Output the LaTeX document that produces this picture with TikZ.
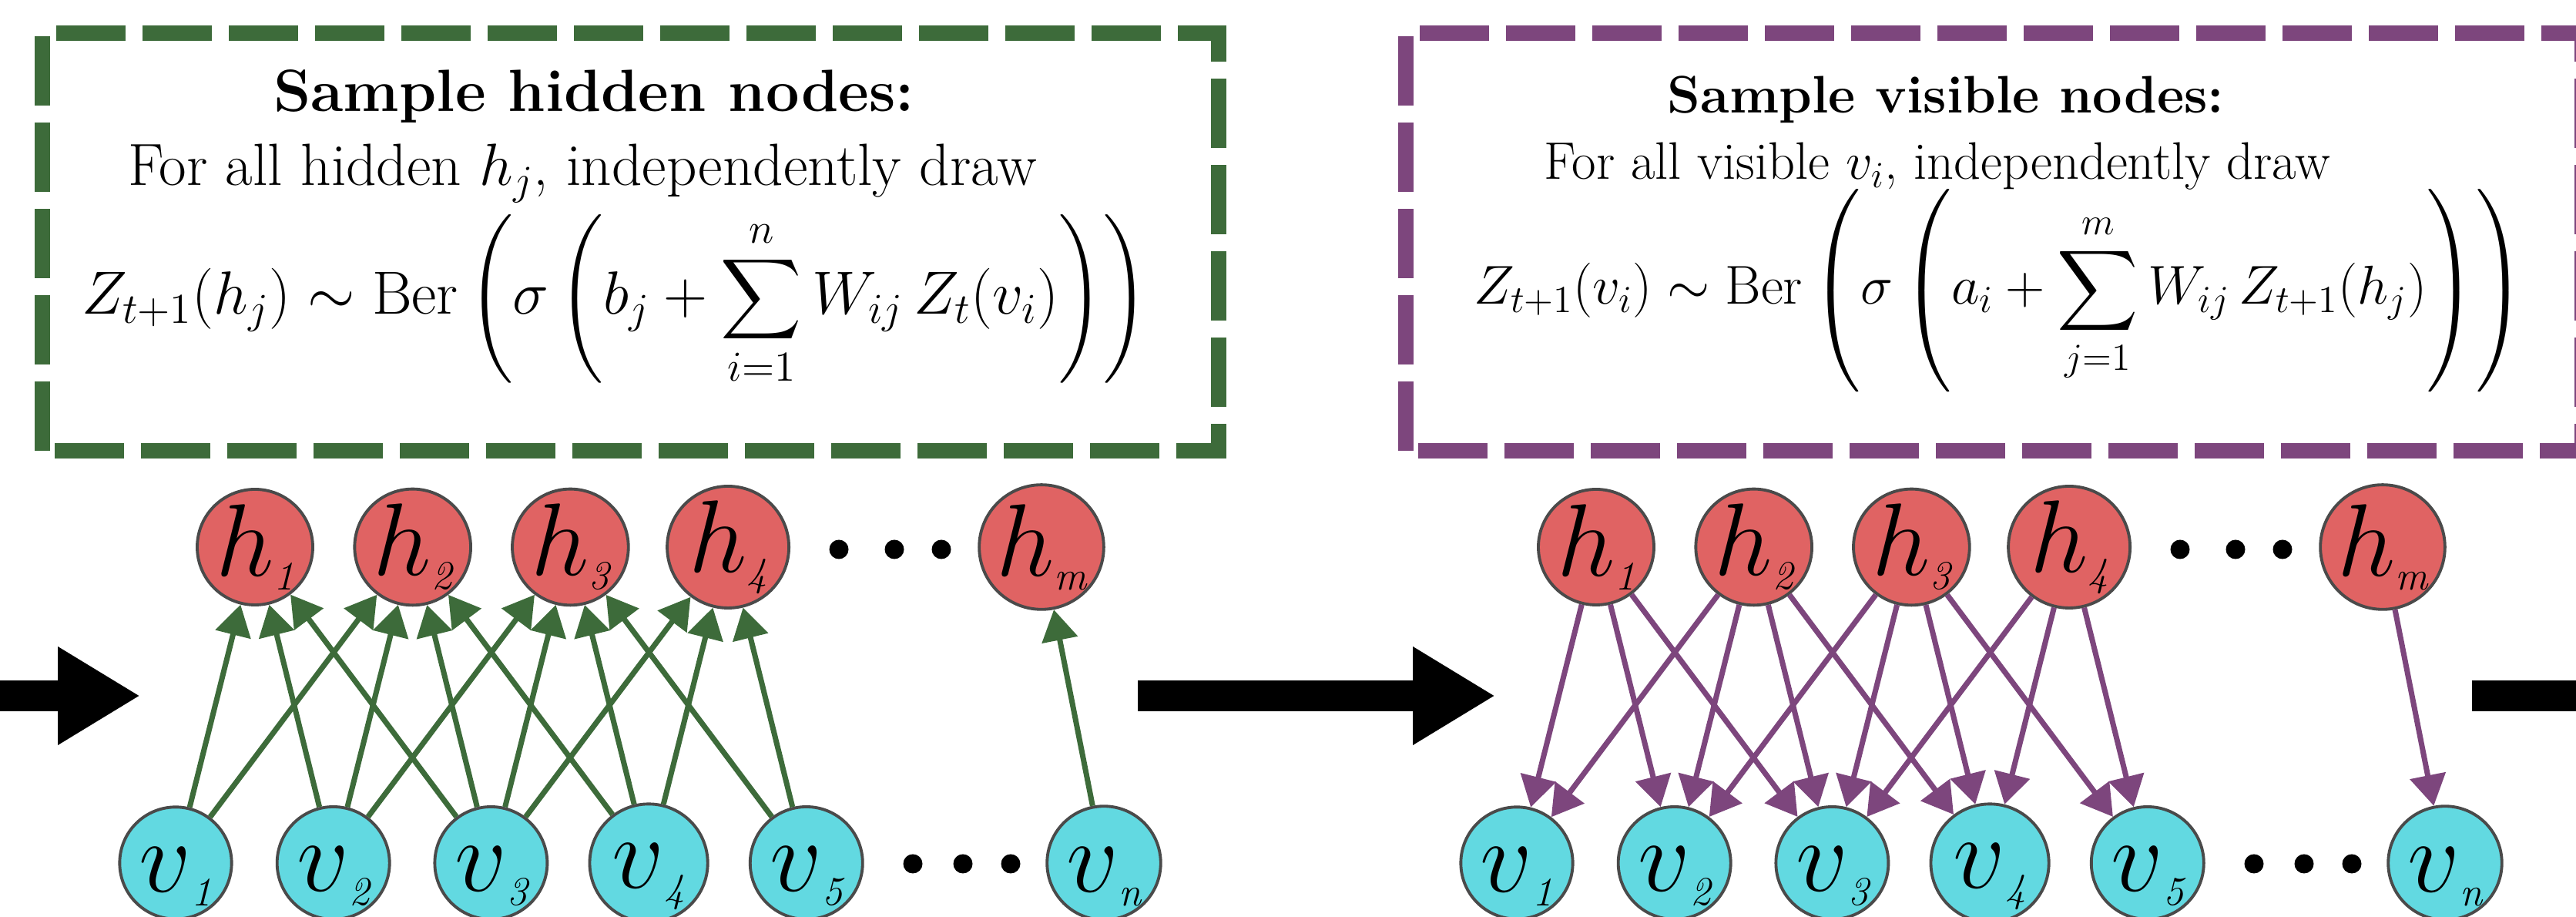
\RequirePackage{fix-cm}
\documentclass[tikz,border=0pt]{standalone}
\usepackage{amsmath}
\usepackage{tikz}
\usetikzlibrary{arrows.meta}
\usetikzlibrary{positioning}
\definecolor{hidred}{RGB}{224,99,99}
\definecolor{viscyan}{RGB}{98,217,225}
\definecolor{gibbsgreen}{RGB}{61,107,58}
\definecolor{gibbspurple}{RGB}{125,70,125}
\definecolor{nodeline}{RGB}{74,74,74}
\newcommand{\nlab}[2]{{\fontsize{38}{38}\selectfont\vphantom{h}$#1$\raisebox{-0.18cm}{\fontsize{15}{15}\selectfont\itshape #2}}}
\tikzstyle{hid}=[circle,draw=nodeline,fill=hidred,line width=1.1pt,minimum size=1.38cm,inner sep=0pt]
\tikzstyle{vis}=[circle,draw=nodeline,fill=viscyan,line width=1.1pt,minimum size=1.38cm,inner sep=0pt]
\tikzstyle{upG}=[every edge/.style={draw=gibbsgreen,line width=2pt,-{Triangle[length=4mm,width=4.6mm]}}]
\tikzstyle{downP}=[every edge/.style={draw=gibbspurple,line width=2pt,-{Triangle[length=4mm,width=4.6mm]}}]
\tikzstyle{stepframe}=[line width=2mm,dash pattern=on 9mm off 2.2mm]
\tikzstyle{gtext}=[anchor=base,inner sep=0pt,font=\fontsize{22}{26}\selectfont]
\tikzstyle{ptext}=[anchor=base,inner sep=0pt,font=\fontsize{19.5}{23}\selectfont]
\tikzstyle{bigarrow}=[line width=4mm,-{Triangle[length=10.7mm,width=12mm]}]

\begin{document}
\begin{tikzpicture}[node distance=2.047cm]
\path[use as bounding box] (0,0) rectangle (33.44,11.9);
\clip (0,0) rectangle (33.44,11.9);

% sample hidden
\draw[stepframe,draw=gibbsgreen] (0.55,6.05) rectangle (15.82,11.47);
\node[gtext] (gtitle) at (7.71,10.45) {\textbf{Sample hidden nodes:}};
\node[gtext] (gline) at (7.56,9.49) {For all hidden $h_j$, independently draw};
\node[gtext,font=\fontsize{22.5}{26}\selectfont] (geq) at (7.98,7.82) {$\displaystyle Z_{t+1}(h_j)\sim\mathrm{Ber}\left(\sigma\left(b_j+\sum_{i=1}^{n}W_{ij}\,Z_t(v_i)\right)\right)$};

\node[hid] (h1) at (3.31,4.80) {\nlab{h}{1}};
\node[hid,right of=h1] (h2) {\nlab{h}{2}};
\node[hid,right of=h2] (h3) {\nlab{h}{3}};
\node[hid,right of=h3] (h4) {\nlab{h}{4}};
\node[hid] (hm) at (13.52,4.80) {\nlab{h}{m}};

\node[vis] (v1) at (2.28,0.70) {\nlab{v}{1}};
\node[vis,right of=v1] (v2) {\nlab{v}{2}};
\node[vis,right of=v2] (v3) {\nlab{v}{3}};
\node[vis,right of=v3] (v4) {\nlab{v}{4}};
\node[vis,right of=v4] (v5) {\nlab{v}{5}};
\node[vis] (vn) at (14.33,0.70) {\nlab{v}{n}};

\foreach \x in {10.89,11.61,12.22} \fill (\x,4.77) circle (1.25mm);
\foreach \x in {11.85,12.50,13.12} \fill (\x,0.69) circle (1.25mm);

\path[upG]
(v1) edge (h1) edge (h2)
(v2) edge (h1) edge (h2) edge (h3)
(v3) edge (h1) edge (h2) edge (h3) edge (h4)
(v4) edge (h2) edge (h3) edge (h4)
(v5) edge (h3) edge (h4)
(vn) edge (hm)
;

% sample visible
\draw[stepframe,draw=gibbspurple] (18.25,6.05) rectangle (33.52,11.47);
\node[ptext] (ptitle) at (25.26,10.43) {\textbf{Sample visible nodes:}};
\node[ptext] (pline) at (25.15,9.57) {For all visible $v_i$, independently draw};
\node[ptext,font=\fontsize{20.2}{24}\selectfont] (peq) at (25.96,7.95) {$\displaystyle Z_{t+1}(v_i)\sim\mathrm{Ber}\left(\sigma\left(a_i+\sum_{j=1}^{m}W_{ij}\,Z_{t+1}(h_j)\right)\right)$};

\begin{scope}[xshift=17.41cm]
\node[hid] (rh1) at (3.31,4.80) {\nlab{h}{1}};
\node[hid,right of=rh1] (rh2) {\nlab{h}{2}};
\node[hid,right of=rh2] (rh3) {\nlab{h}{3}};
\node[hid,right of=rh3] (rh4) {\nlab{h}{4}};
\node[hid] (rhm) at (13.52,4.80) {\nlab{h}{m}};

\node[vis] (rv1) at (2.28,0.70) {\nlab{v}{1}};
\node[vis,right of=rv1] (rv2) {\nlab{v}{2}};
\node[vis,right of=rv2] (rv3) {\nlab{v}{3}};
\node[vis,right of=rv3] (rv4) {\nlab{v}{4}};
\node[vis,right of=rv4] (rv5) {\nlab{v}{5}};
\node[vis] (rvn) at (14.33,0.70) {\nlab{v}{n}};

\foreach \x in {10.89,11.61,12.22} \fill (\x,4.77) circle (1.25mm);
\foreach \x in {11.85,12.50,13.12} \fill (\x,0.69) circle (1.25mm);
\end{scope}

\path[downP]
(rh1) edge (rv1) edge (rv2) edge (rv3)
(rh2) edge (rv1) edge (rv2) edge (rv3) edge (rv4)
(rh3) edge (rv2) edge (rv3) edge (rv4) edge (rv5)
(rh4) edge (rv3) edge (rv4) edge (rv5)
(rhm) edge (rvn)
;

% gibbs steps
\coordinate (a0) at (-0.5,2.87);
\coordinate (a1) at (1.82,2.87);
\coordinate (b0) at (14.77,2.87);
\coordinate (b1) at (19.41,2.87);
\coordinate (c0) at (32.09,2.87);
\coordinate (c1) at (36.7,2.87);
\draw[bigarrow] (a0) -- (a1);
\draw[bigarrow] (b0) -- (b1);
\draw[bigarrow] (c0) -- (c1);

\end{tikzpicture}
\end{document}
